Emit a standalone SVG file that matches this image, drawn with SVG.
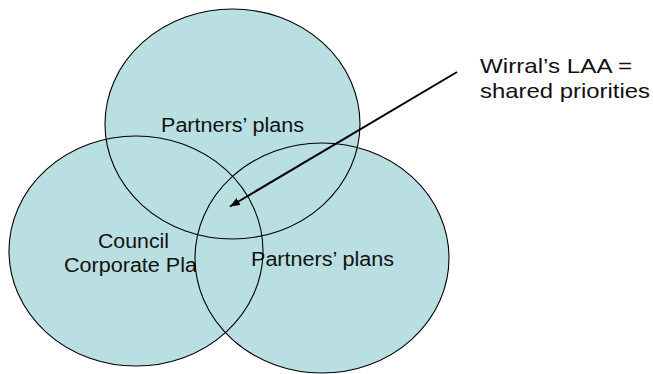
<svg xmlns="http://www.w3.org/2000/svg" width="653" height="374" viewBox="0 0 653 374">
  <style>
    .fill { fill: #B9DFE2; stroke: none; }
    .outline { fill: none; stroke: #000; stroke-width: 1.1; }
    .label { font-family: "Liberation Sans", Arial, sans-serif; font-size: 20px; fill: #111; }
    .note { font-family: "Liberation Sans", Arial, sans-serif; font-size: 21px; fill: #111; }
    .connector { stroke: #000; stroke-width: 2; fill: none; }
  </style>
  <defs>
    <ellipse id="shape-top" cx="232.5" cy="124" rx="127.5" ry="115"/>
    <ellipse id="shape-left" cx="136" cy="251" rx="127" ry="115"/>
    <ellipse id="shape-right" cx="322" cy="258" rx="127" ry="115"/>
    <marker id="arrowhead" viewBox="0 0 10 8" refX="10" refY="4" markerWidth="5" markerHeight="4" orient="auto" markerUnits="strokeWidth">
      <path d="M0,0 L10,4 L0,8 Z" fill="#000"/>
    </marker>
  </defs>

  <!-- Filled circles with their labels, back to front -->
  <g id="node-partners-top">
    <use href="#shape-top" class="fill"/>
    <text class="label" x="161" y="132" textLength="143" lengthAdjust="spacingAndGlyphs">Partners’ plans</text>
  </g>
  <g id="node-council">
    <use href="#shape-left" class="fill"/>
    <text class="label" x="98" y="248" textLength="71" lengthAdjust="spacingAndGlyphs">Council</text>
    <text class="label" x="64" y="272" textLength="133" lengthAdjust="spacingAndGlyphs">Corporate Pla</text>
  </g>
  <g id="node-partners-right">
    <use href="#shape-right" class="fill"/>
    <text class="label" x="251" y="266" textLength="143" lengthAdjust="spacingAndGlyphs">Partners’ plans</text>
  </g>

  <!-- Circle outlines drawn over all fills -->
  <g id="outlines">
    <use href="#shape-top" class="outline"/>
    <use href="#shape-left" class="outline"/>
    <use href="#shape-right" class="outline"/>
  </g>

  <!-- Callout -->
  <g id="node-callout">
    <text class="note" x="480" y="73" textLength="152" lengthAdjust="spacingAndGlyphs">Wirral’s LAA =</text>
    <text class="note" x="480" y="98" textLength="170" lengthAdjust="spacingAndGlyphs">shared priorities</text>
  </g>

  <g id="connectors">
    <line class="connector" x1="457" y1="72" x2="230" y2="206.5" marker-end="url(#arrowhead)"/>
  </g>
</svg>
